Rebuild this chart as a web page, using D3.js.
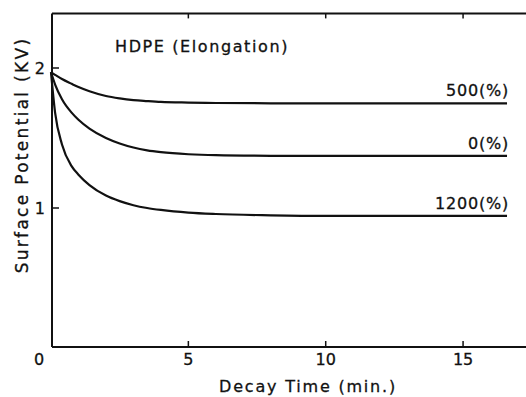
<!DOCTYPE html>
<html>
<head>
<meta charset="utf-8">
<script src="https://cdn.jsdelivr.net/npm/d3@7"></script>
<style>
  body { margin: 0; background: #fff; }
  text { font-family: "DejaVu Sans", sans-serif; fill: #111; stroke: #111; stroke-width: 0.3px; }
</style>
</head>
<body>
<script>
// values
var times = [0, 0.15, 0.4, 0.75, 1, 1.4, 2, 2.5, 3, 3.5, 4, 5, 6, 8, 10, 12, 14, 16.6];
var elong500 = [1.97, 1.951, 1.921, 1.887, 1.864, 1.834, 1.800, 1.783, 1.771, 1.764, 1.758, 1.753, 1.750, 1.748, 1.748, 1.748, 1.748, 1.748];
var elong0 = [1.97, 1.882, 1.777, 1.681, 1.630, 1.567, 1.500, 1.461, 1.432, 1.412, 1.399, 1.384, 1.377, 1.373, 1.372, 1.372, 1.372, 1.372];
var elong1200 = [1.97, 1.68, 1.454, 1.299, 1.238, 1.164, 1.089, 1.049, 1.020, 1.000, 0.986, 0.967, 0.957, 0.948, 0.944, 0.944, 0.944, 0.944];
var seriesNames = ["500(%)", "0(%)", "1200(%)"];
var xTicks = [5, 10, 15];
var yTicks = [1, 2];

var W = 526, H = 397;
var svg = d3.select("body").append("svg").attr("width", W).attr("height", H);

var x = d3.scaleLinear().domain([0, 17.4]).range([51, 529]);
var y = d3.scaleLinear().domain([0, 2.39]).range([348, 13.4]);

var series = [elong500, elong0, elong1200];

// frame
var frame = svg.append("g").attr("stroke", "#111").attr("stroke-width", 2).attr("fill", "none");
frame.append("line").attr("x1", x(0) + 1).attr("x2", x(0) + 1).attr("y1", y(2.39)).attr("y2", 347);
frame.append("line").attr("x1", x(0) + 1).attr("x2", W).attr("y1", 347).attr("y2", 347);
frame.append("line").attr("x1", x(0) + 1).attr("x2", W).attr("y1", y(2.39)).attr("y2", y(2.39));

// ticks, inward
var ticks = svg.append("g").attr("stroke", "#111").attr("stroke-width", 1.5);
xTicks.forEach(function(t) {
  ticks.append("line").attr("x1", x(t)).attr("x2", x(t)).attr("y1", 347).attr("y2", 341);
  ticks.append("line").attr("x1", x(t)).attr("x2", x(t)).attr("y1", y(2.39)).attr("y2", y(2.39) + 5);
});
yTicks.forEach(function(t) {
  ticks.append("line").attr("x1", x(0) + 1).attr("x2", x(0) + 8).attr("y1", y(t)).attr("y2", y(t));
});

// tick labels
svg.selectAll(".xl").data([0].concat(xTicks)).enter().append("text")
    .attr("x", function(d) { return d === 0 ? 39 : x(d); })
    .attr("y", 365)
    .attr("text-anchor", "middle")
    .style("font-size", "16px")
    .text(function(d) { return d; });
svg.selectAll(".yl").data(yTicks).enter().append("text")
    .attr("x", 45)
    .attr("y", function(d) { return y(d) + 6; })
    .attr("text-anchor", "end")
    .style("font-size", "16px")
    .text(function(d) { return d; });

// curves
var line = d3.line()
    .x(function(d, i) { return x(times[i]); })
    .y(function(d) { return y(d); })
    .curve(d3.curveMonotoneX);

svg.append("g").selectAll("path").data(series).enter().append("path")
    .attr("d", line)
    .attr("fill", "none")
    .attr("stroke", "#111")
    .attr("stroke-width", 2.2);

// series labels
svg.selectAll(".sl").data(series).enter().append("text")
    .attr("x", 509)
    .attr("y", function(d) { return y(d[d.length - 1]) - 7; })
    .attr("text-anchor", "end")
    .style("font-size", "16px")
    .style("letter-spacing", "0.8px")
    .text(function(d, i) { return seriesNames[i]; });

// title
svg.append("text")
    .attr("x", 115).attr("y", 52)
    .style("font-size", "16px")
    .style("letter-spacing", "1.6px")
    .text("HDPE (Elongation)");

// axis titles
svg.append("text")
    .attr("transform", "translate(28,155) rotate(-90)")
    .attr("text-anchor", "middle")
    .style("font-size", "17px")
    .style("letter-spacing", "2.3px")
    .text("Surface Potential (KV)");

svg.append("text")
    .attr("x", 308).attr("y", 392)
    .attr("text-anchor", "middle")
    .style("font-size", "16px")
    .style("letter-spacing", "1.8px")
    .text("Decay  Time (min.)");
</script>
</body>
</html>
